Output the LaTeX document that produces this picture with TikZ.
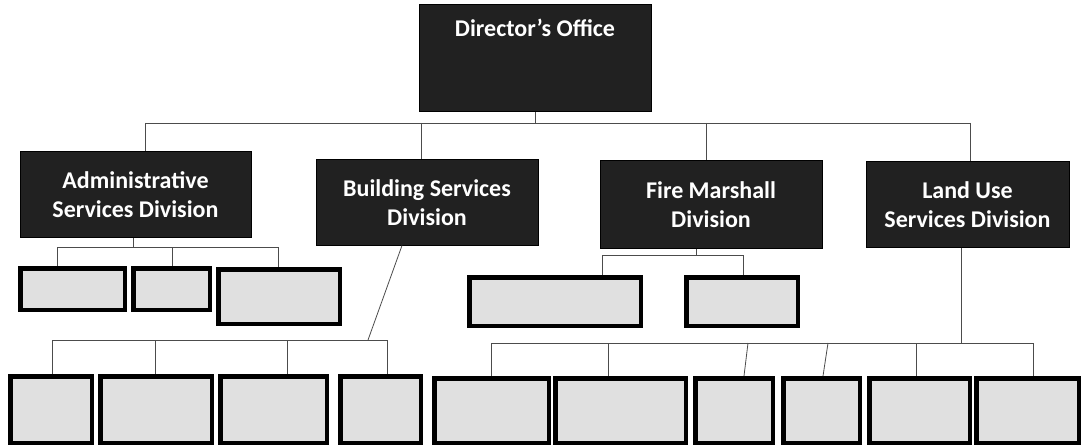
\documentclass[tikz,border=0pt]{standalone}
\usepackage{fontspec}
\setmainfont{Carlito}
\tikzset{
  x=1pt, y=-1pt,
  divbox/.style={draw=black, line width=1pt, fill=black!87, text=white, inner sep=0pt,
    font=\fontsize{24}{29}\selectfont\bfseries, align=center},
  subbox/.style={draw=black, line width=4.5pt, fill=black!12, inner sep=0pt},
  conn/.style={draw=black!70, line width=0.8pt},
}
\begin{document}
\begin{tikzpicture}
\useasboundingbox (0,0) rectangle (1083,446);
% top
\node[divbox, minimum width=232pt, minimum height=107pt] (dir) at (535,58.5)
  {\parbox[c][107pt][t]{232pt}{\centering\vspace{14pt}Director's Office}};
% divisions
\node[divbox, minimum width=231pt, minimum height=86pt] (adm) at (135.5,195) {Administrative\\Services Division};
\node[divbox, minimum width=222pt, minimum height=85pt] (bld) at (427,202.5) {Building Services\\Division};
\node[divbox, minimum width=222pt, minimum height=87pt] (fire) at (711,204.5) {Fire Marshall\\Division};
\node[divbox, minimum width=203pt, minimum height=85pt] (land) at (967.5,204.5) {Land Use\\Services Division};
% admin sub units
\node[subbox, minimum width=104.5pt, minimum height=41.5pt] (a1) at (72.5,289) {};
\node[subbox, minimum width=76.5pt, minimum height=41.5pt] (a2) at (171.5,289) {};
\node[subbox, minimum width=121.5pt, minimum height=54.5pt] (a3) at (279,296.5) {};
% fire sub units
\node[subbox, minimum width=171.5pt, minimum height=48.5pt] (f1) at (555,301.5) {};
\node[subbox, minimum width=111.5pt, minimum height=48.5pt] (f2) at (742,301.5) {};
% building sub units
\node[subbox, minimum width=81.5pt, minimum height=66.5pt] (b1) at (51,409.5) {};
\node[subbox, minimum width=111.5pt, minimum height=66.5pt] (b2) at (156,409.5) {};
\node[subbox, minimum width=106.5pt, minimum height=66.5pt] (b3) at (273.5,409.5) {};
\node[subbox, minimum width=80.5pt, minimum height=66.5pt] (b4) at (380.5,409.5) {};
% land use sub units
\node[subbox, minimum width=114.5pt, minimum height=64.5pt] (l1) at (491.5,410.5) {};
\node[subbox, minimum width=130.5pt, minimum height=64.5pt] (l2) at (620.5,410.5) {};
\node[subbox, minimum width=77.5pt, minimum height=64.5pt] (l3) at (734,410.5) {};
\node[subbox, minimum width=76.5pt, minimum height=64.5pt] (l4) at (821.5,410.5) {};
\node[subbox, minimum width=100.5pt, minimum height=64.5pt] (l5) at (919.5,410.5) {};
\node[subbox, minimum width=102.5pt, minimum height=64.5pt] (l6) at (1027.5,410.5) {};
% junction coordinates
\coordinate (busL) at (145,123);
\coordinate (busR) at (970,123);
\coordinate (ajL) at (57,247);
\coordinate (ajM) at (172,247);
\coordinate (ajR) at (278,247);
\coordinate (fjL) at (602,255);
\coordinate (fjR) at (743,255);
\coordinate (bj) at (368,340);
\coordinate (bjL) at (52,340);
\coordinate (bjM1) at (155,340);
\coordinate (bjM2) at (287,340);
\coordinate (bjR) at (387,340);
\coordinate (ljL) at (491,343);
\coordinate (lj2) at (608,343);
\coordinate (lj3) at (748,343);
\coordinate (lj4) at (828,343);
\coordinate (lj5) at (916,343);
\coordinate (ljR) at (1033,343);
% director to divisions
\draw[conn] (dir.south) -- (dir.south |- busL);
\draw[conn] (busL) -- (busR);
\draw[conn] (busL) -- (busL |- adm.north);
\draw[conn] ([xshift=-6pt]bld.north |- busL) -- ([xshift=-6pt]bld.north);
\draw[conn] ([xshift=-5pt]fire.north |- busL) -- ([xshift=-5pt]fire.north);
\draw[conn] (busR) -- (busR |- land.north);
% admin
\draw[conn] ([xshift=-2.5pt]adm.south) -- ([xshift=-2.5pt]adm.south |- ajL);
\draw[conn] (ajL) -- (ajR);
\draw[conn] (ajL) -- (ajL |- a1.north);
\draw[conn] (ajM) -- (ajM |- a2.north);
\draw[conn] (ajR) -- (ajR |- a3.north);
% fire
\draw[conn] ([xshift=-15pt]fire.south) -- ([xshift=-15pt]fire.south |- fjL);
\draw[conn] (fjL) -- (fjR);
\draw[conn] (fjL) -- (fjL |- f1.north);
\draw[conn] (fjR) -- (fjR |- f2.north);
% building
\draw[conn] ([xshift=-25pt]bld.south) -- (bj);
\draw[conn] (bjL) -- (bjR);
\draw[conn] (bjL) -- (bjL |- b1.north);
\draw[conn] (bjM1) -- (bjM1 |- b2.north);
\draw[conn] (bjM2) -- (bjM2 |- b3.north);
\draw[conn] (bjR) -- (bjR |- b4.north);
% land use
\draw[conn] ([xshift=-6pt]land.south) -- ([xshift=-6pt]land.south |- ljL);
\draw[conn] (ljL) -- (ljR);
\draw[conn] (ljL) -- (ljL |- l1.north);
\draw[conn] (lj2) -- (lj2 |- l2.north);
\draw[conn] (lj3) -- ([xshift=10pt]l3.north);
\draw[conn] (lj4) -- ([xshift=1.5pt]l4.north);
\draw[conn] (lj5) -- (lj5 |- l5.north);
\draw[conn] (ljR) -- (ljR |- l6.north);
\end{tikzpicture}
\end{document}
